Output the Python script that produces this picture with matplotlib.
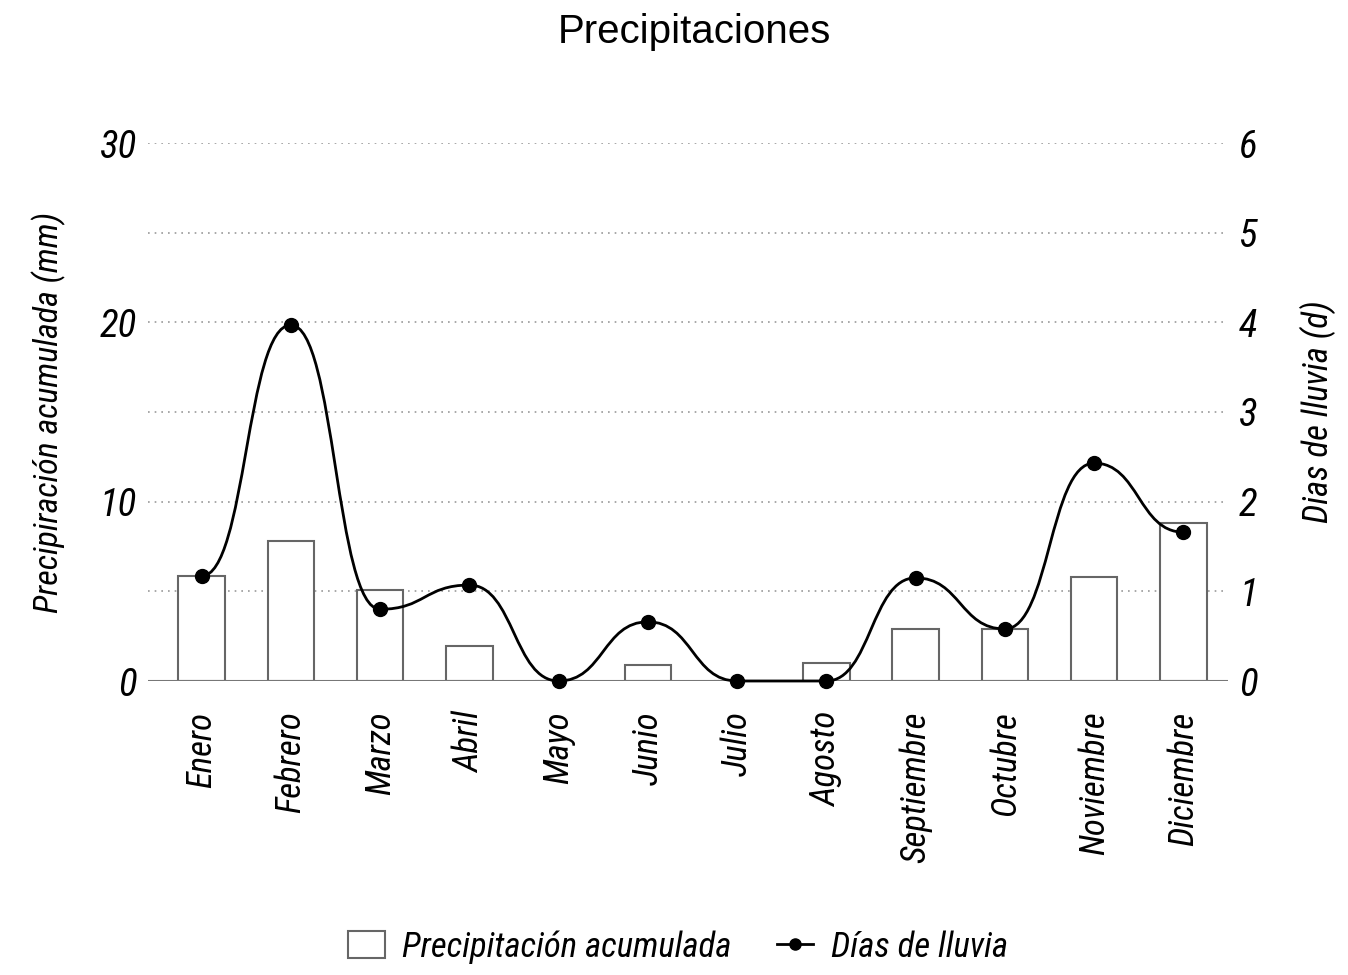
import numpy as np
import matplotlib
matplotlib.use("Agg")
import matplotlib.pyplot as plt
from matplotlib import font_manager as fm
from matplotlib.lines import Line2D
from matplotlib.patches import Patch, PathPatch
from matplotlib.path import Path

months = ["Enero", "Febrero", "Marzo", "Abril", "Mayo", "Junio", "Julio",
          "Agosto", "Septiembre", "Octubre", "Noviembre", "Diciembre"]
precip = [5.85, 7.8, 5.05, 1.95, 0.0, 0.9, 0.0, 1.0, 2.9, 2.9, 5.8, 8.8]
dias = [1.17, 3.97, 0.80, 1.07, 0.0, 0.66, 0.0, 0.0, 1.15, 0.58, 2.43, 1.66]
left_ticks = [0, 10, 20, 30]
right_ticks = [0, 1, 2, 3, 4, 5, 6]

names = {f.name for f in fm.fontManager.ttflist}
fam = next((n for n in ["Roboto Condensed", "Archivo Narrow", "Liberation Sans Narrow",
                        "Asap Condensed", "Roboto"] if n in names), "DejaVu Sans")
title_fam = "Liberation Sans" if "Liberation Sans" in names else "DejaVu Sans"
plt.rcParams['font.family'] = [fam, 'DejaVu Sans']

fig = plt.figure(figsize=(13.48, 9.75), dpi=100)
ax = fig.add_axes([148/1348, 1 - 681/975, (1228-148)/1348, (681-143)/975])
ax2 = ax.twinx()

x = np.arange(len(months))
ax.set_xlim(-0.6, 11.5)
ax.set_ylim(0, 30)
ax2.set_ylim(0, 6)

# grid
for g in np.arange(5, 31, 5):
    ax.axhline(g, color="#999999", lw=1.2, ls=(0, (1, 3)), zorder=0)
ax.axhline(0, color="#777777", lw=1.5, zorder=3)

ax.bar(x, precip, width=0.52, facecolor="white", edgecolor="#666666", lw=1.5, zorder=2)

# "bump" curve: each segment a cubic Bezier with horizontal tangents at the points
verts = [(x[0], dias[0])]
codes = [Path.MOVETO]
for i in range(len(x) - 1):
    xm = (x[i] + x[i+1]) / 2
    verts += [(xm, dias[i]), (xm, dias[i+1]), (x[i+1], dias[i+1])]
    codes += [Path.CURVE4] * 3
ax2.add_patch(PathPatch(Path(verts, codes), facecolor="none", edgecolor="black",
                        lw=2, zorder=4, clip_on=False))
ax2.plot(x, dias, 'o', color="black", ms=10, zorder=5, clip_on=False)

for a in (ax, ax2):
    for sp in a.spines.values():
        sp.set_visible(False)
ax2.set_zorder(ax.get_zorder() + 1)
ax2.patch.set_visible(False)

ax.set_yticks(left_ticks)
ax.set_yticklabels([str(v) for v in left_ticks], fontsize=28, style="italic")
ax2.set_yticks(right_ticks)
ax2.set_yticklabels([str(v) for v in right_ticks], fontsize=28, style="italic")
ax.tick_params(axis='y', length=0, pad=8)
ax2.tick_params(axis='y', length=0, pad=8)
ax.set_xticks(x)
ax.set_xticklabels(months, rotation=90, fontsize=25, style="italic")
ax.tick_params(axis='x', length=0, pad=22)

ax.set_ylabel("Precipiración acumulada (mm)", fontsize=24.5, style="italic", labelpad=24)
ax2.set_ylabel("Dias de lluvia (d)", fontsize=25, style="italic", labelpad=30)

fig.text(0.515, 1 - 32/975, "Precipitaciones", ha="center", va="center",
         fontsize=29, family=title_fam)

handles = [Patch(facecolor="white", edgecolor="#666666", lw=1.5),
           Line2D([0], [0], color="black", lw=2, marker='o', ms=8)]
fig.legend(handles, ["Precipitación acumulada", "Días de lluvia"], loc="center",
           bbox_to_anchor=(0.503, 1 - 947/975), ncol=2, frameon=False,
           prop={'size': 25, 'style': 'italic'}, handlelength=1.05, handleheight=0.8,
           columnspacing=1.3, handletextpad=0.5)

fig.savefig("out.png", dpi=100)
